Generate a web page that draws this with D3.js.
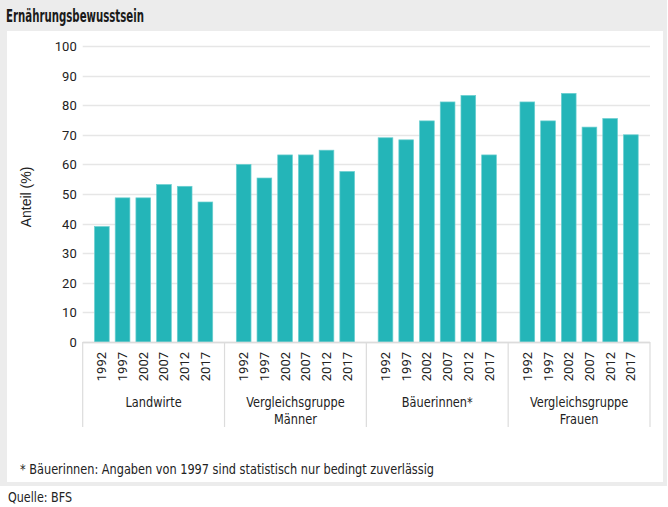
<!DOCTYPE html>
<html><head><meta charset="utf-8">
<script src="https://cdn.jsdelivr.net/npm/d3@7"></script>
<style>
html,body{margin:0;padding:0;background:#fff;}
text{font-family:"DejaVu Sans Condensed","Roboto",sans-serif;fill:#222;}
</style></head>
<body>
<svg id="c" width="668" height="507"></svg>
<script>
const groupNames = ["Landwirte", "Vergleichsgruppe Männer", "Bäuerinnen*", "Vergleichsgruppe Frauen"];
const groupLabelLines = [["Landwirte"], ["Vergleichsgruppe", "Männer"], ["Bäuerinnen*"], ["Vergleichsgruppe", "Frauen"]];
const years = ["1992", "1997", "2002", "2007", "2012", "2017"];
const landwirte = [39, 48.7, 48.7, 53.2, 52.6, 47.3];
const maenner = [60, 55.4, 63.2, 63.2, 64.8, 57.6];
const baeuerinnen = [69, 68.3, 74.7, 81.1, 83.3, 63.2];
const frauen = [81.1, 74.7, 84, 72.6, 75.5, 70];
const yTicks = [0, 10, 20, 30, 40, 50, 60, 70, 80, 90, 100];

const title = "Ernährungsbewusstsein";
const yLabel = "Anteil (%)";
const footnote = "* Bäuerinnen: Angaben von 1997 sind statistisch nur bedingt zuverlässig";
const source = "Quelle: BFS";

const seriesByGroup = [landwirte, maenner, baeuerinnen, frauen];

// squeeze a text to a target width (condensed look of the original font)
function fit(sel, w) {
  sel.each(function () {
    const n = this.getComputedTextLength();
    if (n > w) d3.select(this).attr("textLength", w).attr("lengthAdjust", "spacingAndGlyphs");
  });
}
function squeeze(sel, r) {
  sel.each(function () {
    const n = this.getComputedTextLength();
    d3.select(this).attr("textLength", n * r).attr("lengthAdjust", "spacingAndGlyphs");
  });
}

const svg = d3.select("#c");
svg.append("rect").attr("x", 0).attr("y", 0).attr("width", 667).attr("height", 486).attr("fill", "#ececec");
svg.append("rect").attr("x", 7).attr("y", 31).attr("width", 656).attr("height", 451).attr("fill", "#fff");

svg.append("text").attr("x", 6).attr("y", 22).text(title)
  .style("font-size", "18px").style("font-weight", "bold").style("fill", "#1a1a1a").call(fit, 138);

const plotL = 82.7, plotR = 650, plotT = 46, plotB = 342;
const x0 = d3.scaleBand().domain(groupNames).range([plotL, plotR]).padding(0);
const x1 = d3.scaleBand().domain(years).range([0, x0.bandwidth()]).paddingInner(0.29).paddingOuter(0.57);
const y = d3.scaleLinear().domain([0, 100]).range([plotB, plotT]);

const g = svg.append("g");
g.selectAll("line.grid").data(yTicks).join("line")
  .attr("x1", plotL).attr("x2", plotR)
  .attr("y1", d => Math.round(y(d)) + 0.5).attr("y2", d => Math.round(y(d)) + 0.5)
  .attr("stroke", "#e6e6e6").attr("stroke-width", 1.5);

const yAxis = d3.axisLeft(y).tickValues(yTicks).tickSize(0).tickPadding(0);
const ya = svg.append("g").attr("transform", `translate(${plotL - 6},0)`).call(yAxis);
ya.select(".domain").remove();
ya.selectAll("text").style("font-size", "13px").style("font-family", "Roboto, sans-serif").style("fill", "#222").attr("dy", "0.35em");

svg.append("text").attr("transform", `translate(31,197) rotate(-90)`).attr("text-anchor", "middle")
  .style("font-family", "'Liberation Sans', Arial, sans-serif").style("font-size", "14px").text(yLabel);

const bars = svg.append("g");
groupNames.forEach((gname, gi) => {
  const gg = bars.append("g").attr("transform", `translate(${x0(gname)},0)`);
  gg.selectAll("rect").data(seriesByGroup[gi]).join("rect")
    .attr("x", (d, i) => x1(years[i]))
    .attr("width", x1.bandwidth())
    .attr("y", d => y(d))
    .attr("height", d => y(0) - y(d))
    .attr("fill", "#24b5b8").attr("stroke", "#6ccfd0").attr("stroke-width", 0.7);
  gg.selectAll("text").data(years).join("text")
    .attr("transform", d => `translate(${x1(d) + x1.bandwidth() / 2 + 4.5},352) rotate(-90)`)
    .attr("text-anchor", "end")
    .style("font-family", "Roboto, sans-serif").style("font-size", "13px")
    .text(d => d);
  const cx = x0.bandwidth() / 2;
  groupLabelLines[gi].forEach((line, li) => {
    gg.append("text").attr("x", cx).attr("y", 407 + li * 17).attr("text-anchor", "middle")
      .style("font-size", "14px").text(line).call(squeeze, 0.9);
  });
});

svg.append("line").attr("x1", plotL).attr("x2", plotR).attr("y1", plotB + 0.5).attr("y2", plotB + 0.5)
  .attr("stroke", "#dcdcdc").attr("stroke-width", 1.5);
const seps = groupNames.map(d => x0(d)).concat([plotR]);
svg.selectAll("line.sep").data(seps).join("line")
  .attr("x1", d => d).attr("x2", d => d).attr("y1", plotB).attr("y2", 427)
  .attr("stroke", "#dcdcdc").attr("stroke-width", 1.2);

svg.append("text").attr("x", 20).attr("y", 474).style("font-size", "14px").text(footnote).call(fit, 414);
svg.append("text").attr("x", 8).attr("y", 502).style("font-size", "14px").text(source).call(fit, 64);
</script>
</body></html>
